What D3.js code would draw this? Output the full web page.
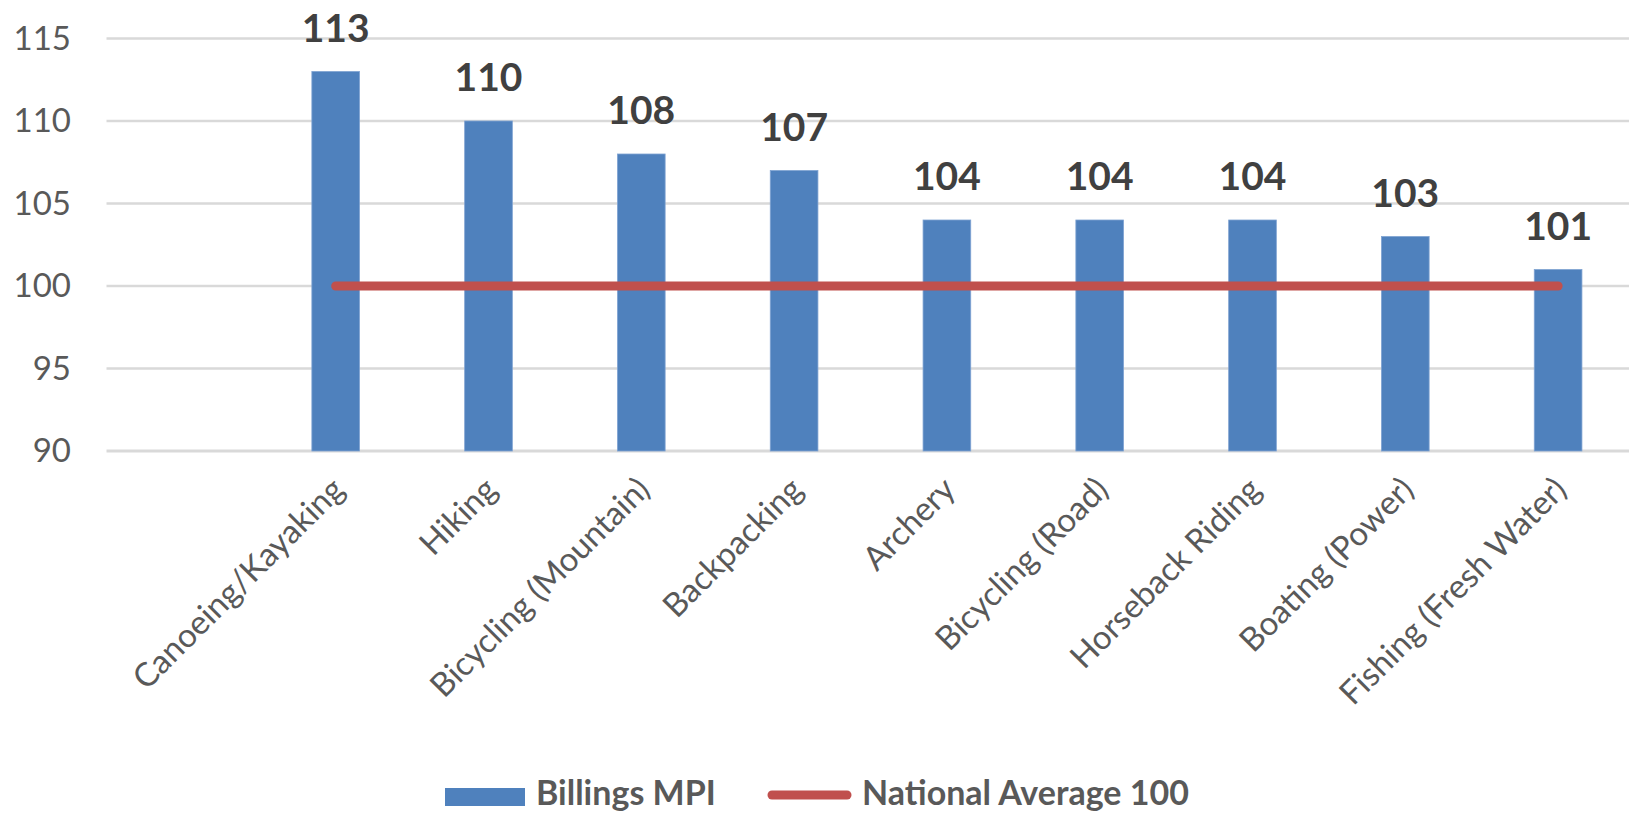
<!DOCTYPE html>
<html>
<head>
<meta charset="utf-8">
<script src="https://cdn.jsdelivr.net/npm/d3@7"></script>
<style>
  html, body { margin: 0; padding: 0; background: #fff; }
  svg { display: block; font-family: Lato, "Open Sans", sans-serif; overflow: hidden; }
</style>
</head>
<body>
<svg id="chart" width="1629" height="814"></svg>
<script>
// chart data
const categories = ['Canoeing/Kayaking', 'Hiking', 'Bicycling (Mountain)', 'Backpacking',
  'Archery', 'Bicycling (Road)', 'Horseback Riding', 'Boating (Power)', 'Fishing (Fresh Water)'];
const mpiValues = [113, 110, 108, 107, 104, 104, 104, 103, 101];
const nationalValues = [100, 100, 100, 100, 100, 100, 100, 100, 100];
const yTicks = [90, 95, 100, 105, 110, 115];
const seriesNames = ['Billings MPI', 'National Average 100'];

const barColor = '#4F81BD';
const lineColor = '#C0504D';

const svg = d3.select('#chart');

// first band is empty in the original layout, keep a blank slot
const x = d3.scaleBand()
  .domain([''].concat(categories))
  .range([106.5, 1634.5])
  .paddingInner(0.688)
  .paddingOuter(0.344);

const y = d3.scaleLinear()
  .domain([90, 115])
  .range([451, 38.5]);

// gridlines
svg.append('g')
  .selectAll('line')
  .data(yTicks)
  .enter()
  .append('line')
  .attr('x1', 106.5)
  .attr('x2', 1634.5)
  .attr('y1', d => y(d))
  .attr('y2', d => y(d))
  .attr('stroke', '#D9D9D9')
  .attr('stroke-width', d => d === 90 ? 3 : 2.5);

// y axis labels
const yAxis = d3.axisLeft(y).tickValues(yTicks).tickSize(0).tickPadding(0);
svg.append('g')
  .attr('transform', 'translate(71,0)')
  .call(yAxis)
  .call(g => g.select('.domain').remove())
  .selectAll('text')
  .attr('font-family', 'Lato, sans-serif')
  .attr('font-size', 33)
  .attr('fill', '#595959');

// bars
svg.append('g')
  .selectAll('rect')
  .data(mpiValues)
  .enter()
  .append('rect')
  .attr('x', (d, i) => x(categories[i]))
  .attr('width', x.bandwidth())
  .attr('y', d => y(d))
  .attr('height', d => y(90) - y(d))
  .attr('fill', barColor)
  .attr('stroke', '#7FA3D2')
  .attr('stroke-width', 0.8);

// national average line
const line = d3.line()
  .x((d, i) => x(categories[i]) + x.bandwidth() / 2)
  .y(d => y(d));

svg.append('path')
  .datum(nationalValues)
  .attr('d', line)
  .attr('fill', 'none')
  .attr('stroke', lineColor)
  .attr('stroke-width', 9)
  .attr('stroke-linecap', 'round');

// value labels
svg.append('g')
  .selectAll('text')
  .data(mpiValues)
  .enter()
  .append('text')
  .attr('x', (d, i) => x(categories[i]) + x.bandwidth() / 2)
  .attr('y', d => y(d) - 30)
  .attr('text-anchor', 'middle')
  .attr('font-size', 39)
  .attr('font-weight', 'bold')
  .attr('fill', '#404040')
  .text(d => d);

// category labels, rotated
svg.append('g')
  .selectAll('text')
  .data(categories)
  .enter()
  .append('text')
  .attr('transform', d => `translate(${x(d) + x.bandwidth() / 2 - 7},474) rotate(-45)`)
  .attr('dy', '0.75em')
  .attr('text-anchor', 'end')
  .attr('font-size', 33)
  .attr('fill', '#595959')
  .text(d => d);

// legend
const legend = svg.append('g');
legend.append('rect')
  .attr('x', 445).attr('y', 788)
  .attr('width', 80).attr('height', 18)
  .attr('fill', barColor);
legend.append('text')
  .attr('x', 536).attr('y', 805)
  .attr('font-size', 34)
  .attr('font-weight', 'bold')
  .attr('fill', '#595959')
  .text(seriesNames[0]);
legend.append('line')
  .attr('x1', 772).attr('x2', 847)
  .attr('y1', 795).attr('y2', 795)
  .attr('stroke', lineColor)
  .attr('stroke-width', 9)
  .attr('stroke-linecap', 'round');
legend.append('text')
  .attr('x', 862).attr('y', 805)
  .attr('font-size', 34)
  .attr('font-weight', 'bold')
  .attr('fill', '#595959')
  .text(seriesNames[1]);
</script>
</body>
</html>
